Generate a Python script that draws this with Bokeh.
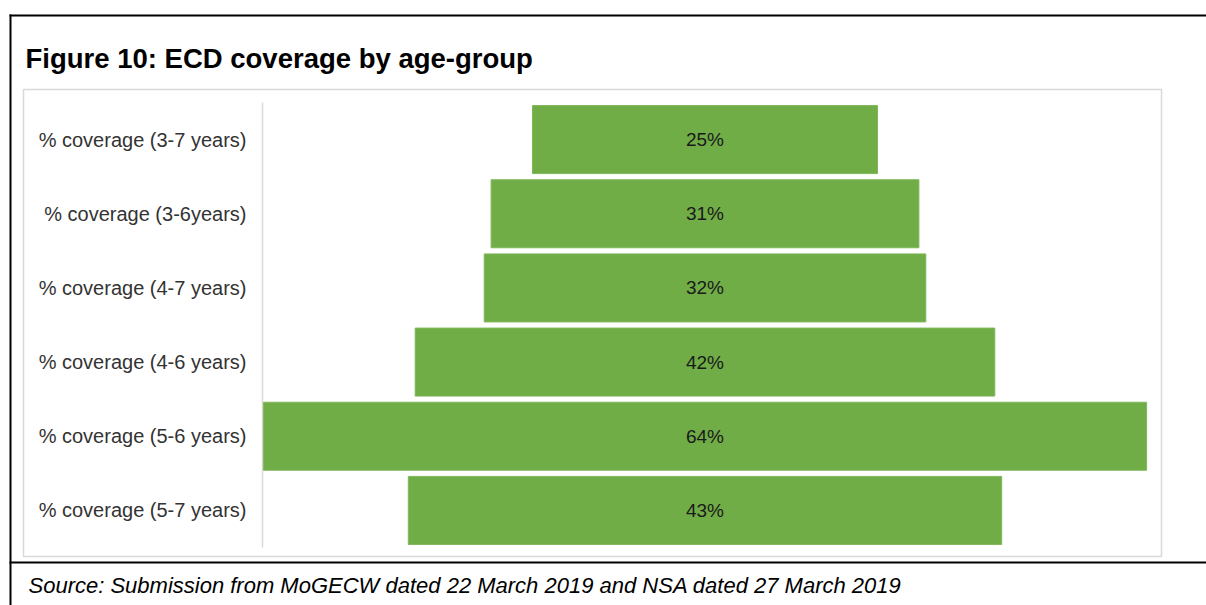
from bokeh.plotting import figure
from bokeh.models import Range1d, BoxAnnotation, Label, ColumnDataSource
from bokeh.embed import file_html
from bokeh.resources import INLINE

# ---- data ----
categories = [
    "% coverage (3-7 years)",
    "% coverage (3-6years)",
    "% coverage (4-7 years)",
    "% coverage (4-6 years)",
    "% coverage (5-6 years)",
    "% coverage (5-7 years)",
]
values = [25, 31, 32, 42, 64, 43]
value_labels = ["25%", "31%", "32%", "42%", "64%", "43%"]

title_text = "Figure 10: ECD coverage by age-group"
source_text = "Source: Submission from MoGECW dated 22 March 2019 and NSA dated 27 March 2019"

FONT = "Liberation Sans"
W, H = 1206, 605

# pixel <-> data mapping for the layout (frame covers the whole canvas)
CX, PPX = 704.5, 13.8          # page x of value 0, pixels per percentage point
PY0, PY1 = 547, 102            # page y of bottom / top of category band
n = len(categories)
PPY = (PY0 - PY1) / n
def X(px):
    return (px - CX) / PPX
def Y(py):
    return (PY0 - py) / PPY

ypos = [n - i - 0.5 for i in range(n)]   # category slots, first at top

src = ColumnDataSource(dict(
    cat=categories,
    y=ypos,
    left=[-v / 2 for v in values],
    right=[v / 2 for v in values],
    center=[(-v / 2 + v / 2) / 2 for v in values],
    lab=value_labels,
))

p = figure(width=W, height=H, output_backend="svg", toolbar_location=None,
           x_range=Range1d(X(0), X(W)), y_range=Range1d(Y(H), Y(0)),
           x_axis_location=None, y_axis_location=None, title=None,
           min_border=0, min_border_left=0, min_border_right=0,
           min_border_top=0, min_border_bottom=0)
p.outline_line_color = None
p.grid.visible = False
p.background_fill_color = "white"
p.border_fill_color = "white"

# inner light-gray chart box
p.add_layout(BoxAnnotation(left=X(23), right=X(1161), top=Y(89), bottom=Y(556),
                           fill_color=None, fill_alpha=0, line_color="#d9d9d9",
                           line_alpha=1, line_width=1.5, level="underlay"))
# outer black rules
for l, r, t, b in [(9, 1215, 14, 16), (9, 11, 14, 615), (9, 1215, 561, 563)]:
    p.add_layout(BoxAnnotation(left=X(l), right=X(r), top=Y(t), bottom=Y(b),
                               fill_color="black", fill_alpha=1, line_color=None))

# category axis (line + labels)
p.segment(x0=[X(262)], y0=[0], x1=[X(262)], y1=[n], line_color="#d9d9d9", line_width=1.5)
p.text(x=X(246), y="y", text="cat", source=src, text_align="right",
       text_baseline="middle", text_font_size="20px", text_color="#333333",
       text_font={"value": FONT})

# bars
p.hbar(y="y", left="left", right="right", height=0.917, source=src,
       fill_color="#70AD47", line_color="#7fb75a", line_width=1)
p.text(x="center", y="y", text="lab", source=src, text_align="center",
       text_baseline="middle", text_font_size="19px", text_color="#1a1a1a",
       text_font={"value": FONT})

p.add_layout(Label(x=X(25), y=Y(58), text=title_text,
                   text_font=FONT, text_font_style="bold", text_font_size="27.5px",
                   text_color="black", text_baseline="alphabetic", text_align="left"))
p.add_layout(Label(x=X(28), y=Y(585), text=source_text,
                   text_font=FONT, text_font_style="italic", text_font_size="22px",
                   text_color="black", text_baseline="alphabetic", text_align="left"))

open("out.html", "w").write(file_html(p, INLINE))
